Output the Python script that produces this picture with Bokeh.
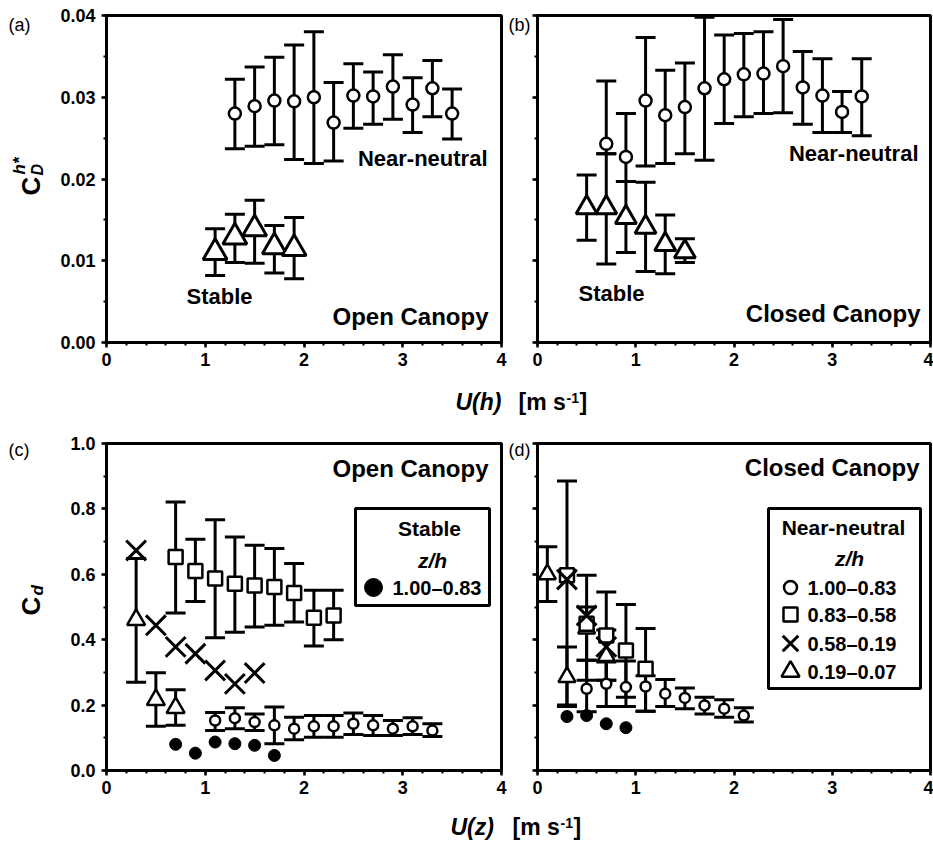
import math
from bokeh.plotting import figure
from bokeh.layouts import column, row
from bokeh.models import (Range1d, FixedTicker, PrintfTickFormatter, CustomJSTickFormatter,
                          ColumnDataSource, Whisker, TeeHead, Label, BoxAnnotation)
from bokeh.embed import file_html
from bokeh.resources import INLINE

FONT = "Liberation Sans"

# ---------------- (a) open canopy: C_D^h* vs U(h) ----------------
a_nn_u = [1.3, 1.5, 1.7, 1.9, 2.1, 2.3, 2.5, 2.7, 2.9, 3.1, 3.3, 3.5]
a_nn_cd = [0.0280, 0.0289, 0.0296, 0.0295, 0.0300, 0.0269, 0.0302, 0.0301, 0.0313, 0.0291, 0.0311, 0.0280]
a_nn_hi = [0.0322, 0.0337, 0.0349, 0.0364, 0.0380, 0.0318, 0.0341, 0.0331, 0.0352, 0.0324, 0.0345, 0.0310]
a_nn_lo = [0.0237, 0.0240, 0.0242, 0.0224, 0.0219, 0.0222, 0.0262, 0.0267, 0.0273, 0.0257, 0.0276, 0.0249]
a_st_u = [1.1, 1.3, 1.5, 1.7, 1.9]
a_st_cd = [0.0110, 0.0129, 0.0139, 0.0117, 0.0115]
a_st_hi = [0.0139, 0.0157, 0.0174, 0.0143, 0.0153]
a_st_lo = [0.0082, 0.0098, 0.0097, 0.0085, 0.0078]

# ---------------- (b) closed canopy: C_D^h* vs U(h) ----------------
b_nn_u = [0.7, 0.9, 1.1, 1.3, 1.5, 1.7, 1.9, 2.1, 2.3, 2.5, 2.7, 2.9, 3.1, 3.3]
b_nn_cd = [0.0243, 0.0227, 0.0296, 0.0278, 0.0288, 0.0311, 0.0322, 0.0328, 0.0329, 0.0338, 0.0312, 0.0302, 0.0282, 0.0301]
b_nn_hi = [0.0320, 0.0280, 0.0373, 0.0333, 0.0342, 0.0398, 0.0376, 0.0378, 0.0380, 0.0395, 0.0356, 0.0347, 0.0307, 0.0347]
b_nn_lo = [0.0231, 0.0197, 0.0216, 0.0219, 0.0231, 0.0223, 0.0268, 0.0276, 0.0280, 0.0281, 0.0267, 0.0257, 0.0257, 0.0253]
b_st_u = [0.5, 0.7, 0.9, 1.1, 1.3, 1.5]
b_st_cd = [0.0165, 0.0165, 0.0153, 0.0141, 0.0120, 0.0111]
b_st_hi = [0.0205, 0.0231, 0.0197, 0.0196, 0.0156, 0.0127]
b_st_lo = [0.0125, 0.0096, 0.0110, 0.0087, 0.0084, 0.0098]

# ---------------- (c) open canopy: C_d vs U(z) ----------------
c_z1_u = [1.1, 1.3, 1.5, 1.7, 1.9, 2.1, 2.3, 2.5, 2.7, 2.9, 3.1, 3.3]      # z/h 1.00-0.83
c_z1_cd = [0.153, 0.160, 0.148, 0.138, 0.128, 0.135, 0.135, 0.143, 0.138, 0.128, 0.135, 0.122]
c_z1_hi = [0.177, 0.192, 0.173, 0.194, 0.163, 0.168, 0.168, 0.176, 0.168, 0.153, 0.161, 0.143]
c_z1_lo = [0.122, 0.128, 0.122, 0.082, 0.094, 0.102, 0.102, 0.110, 0.107, 0.107, 0.110, 0.104]
c_z2_u = [0.7, 0.9, 1.1, 1.3, 1.5, 1.7, 1.9, 2.1, 2.3]                    # z/h 0.83-0.58
c_z2_cd = [0.653, 0.610, 0.587, 0.571, 0.566, 0.561, 0.543, 0.467, 0.474]
c_z2_hi = [0.821, 0.707, 0.767, 0.714, 0.689, 0.679, 0.633, 0.551, 0.551]
c_z2_lo = [0.482, 0.517, 0.406, 0.423, 0.439, 0.444, 0.454, 0.381, 0.400]
c_z3_u = [0.3, 0.5, 0.7, 0.9, 1.1, 1.3, 1.5]                              # z/h 0.58-0.19
c_z3_cd = [0.673, 0.444, 0.378, 0.357, 0.306, 0.265, 0.298]
c_z4_u = [0.3, 0.5, 0.7]                                                  # z/h 0.19-0.07
c_z4_cd = [0.461, 0.216, 0.192]
c_z4_hi = [0.648, 0.299, 0.247]
c_z4_lo = [0.270, 0.135, 0.138]
c_st_u = [0.7, 0.9, 1.1, 1.3, 1.5, 1.7]                                   # stable, z/h 1.00-0.83
c_st_cd = [0.080, 0.053, 0.087, 0.082, 0.077, 0.046]

# ---------------- (d) closed canopy: C_d vs U(z) ----------------
d_z1_u = [0.5, 0.7, 0.9, 1.1, 1.3, 1.5, 1.7, 1.9, 2.1]
d_z1_cd = [0.250, 0.265, 0.255, 0.257, 0.235, 0.222, 0.199, 0.189, 0.168]
d_z1_hi = [0.337, 0.332, 0.335, 0.290, 0.278, 0.252, 0.224, 0.216, 0.192]
d_z1_lo = [0.180, 0.196, 0.196, 0.181, 0.196, 0.189, 0.173, 0.163, 0.148]
d_z2_u = [0.3, 0.5, 0.7, 0.9, 1.1]
d_z2_cd = [0.597, 0.449, 0.413, 0.367, 0.311]
d_z2_hi = [0.885, 0.597, 0.546, 0.508, 0.434]
d_z2_lo = [0.200, 0.276, 0.276, 0.224, 0.181]
d_z3_u = [0.3, 0.5, 0.7]
d_z3_cd = [0.584, 0.474, 0.378]
d_z4_u = [0.1, 0.3, 0.5, 0.7]
d_z4_cd = [0.600, 0.286, 0.434, 0.350]
d_z4_hi = [0.684, 0.378, 0.500, 0.430]
d_z4_lo = [0.517, 0.196, 0.337, 0.276]
d_st_u = [0.3, 0.5, 0.7, 0.9]
d_st_cd = [0.165, 0.168, 0.143, 0.131]

x_ticks = [0, 1, 2, 3, 4]
x_minor = [round(0.2 * i, 1) for i in range(21)]
cdh_ticks = [0.00, 0.01, 0.02, 0.03, 0.04]
cdh_minor = [round(0.005 * i, 3) for i in range(9)]
cd_ticks = [0.0, 0.2, 0.4, 0.6, 0.8, 1.0]
cd_minor = [round(0.1 * i, 1) for i in range(11)]

# ---------------- page geometry (pixels) ----------------
PAGE_W = 933
ROW_H = 375
SIDE_W = 55          # strip holding the panel letter and y title
GAP_W = 25           # strip between the two panels of a row
L_W = 452
R_W = PAGE_W - SIDE_W - L_W - GAP_W
L_FRAME_X, L_FRAME_W = 106, 395
R_FRAME_X, R_FRAME_W = 537, 393
TOP_PAD, BOTTOM_PAD = 15, 33
FRAME_H = ROW_H - TOP_PAD - BOTTOM_PAD
ROW1_Y = 0
STRIP1_Y, STRIP1_H = 375, 53
ROW2_Y = 428
STRIP2_Y, STRIP2_H = 803, 40


class Frame:
    """Maps page pixel positions to a panel's data coordinates."""
    def __init__(self, left, width, top, ymax):
        self.left, self.width, self.top, self.ymax = left, width, top, ymax

    def x(self, px):
        return (px - self.left) / self.width * 4.0

    def y(self, py):
        return (self.top + FRAME_H - py) / FRAME_H * self.ymax


def make_panel(on_left, ymax, yticks, yminor, yfmt):
    p = figure(width=L_W if on_left else R_W, height=ROW_H, title=None,
               x_range=Range1d(0, 4), y_range=Range1d(0, ymax),
               min_border_left=(L_FRAME_X - SIDE_W) if on_left else (R_FRAME_X - SIDE_W - L_W - GAP_W),
               min_border_right=(SIDE_W + L_W - L_FRAME_X - L_FRAME_W) if on_left else (PAGE_W - R_FRAME_X - R_FRAME_W),
               min_border_top=TOP_PAD, min_border_bottom=BOTTOM_PAD,
               output_backend="svg", toolbar_location=None)
    p.xgrid.visible = False
    p.ygrid.visible = False
    p.background_fill_color = "white"
    p.border_fill_color = "white"
    p.outline_line_color = "black"
    p.outline_line_width = 3
    p.xaxis.ticker = FixedTicker(ticks=x_ticks, minor_ticks=x_minor)
    p.yaxis.ticker = FixedTicker(ticks=yticks, minor_ticks=yminor)
    p.xaxis.formatter = PrintfTickFormatter(format="%d")
    if on_left:
        p.yaxis.formatter = PrintfTickFormatter(format=yfmt)
    else:
        p.yaxis.formatter = CustomJSTickFormatter(code="return ''")
    for ax in p.axis:
        ax.axis_line_width = 3
        ax.axis_line_color = "black"
        ax.major_tick_line_width = 2.5
        ax.major_tick_out = 5
        ax.major_tick_in = 0
        ax.minor_tick_line_width = 2
        ax.minor_tick_out = 3
        ax.minor_tick_in = 0
        ax.major_label_text_font = FONT
        ax.major_label_text_font_style = "bold"
        ax.major_label_text_font_size = "18px"
        ax.major_label_text_color = "black"
    p.xaxis.major_label_standoff = 5
    p.yaxis.major_label_standoff = 6 if on_left else 0
    return p


def make_strip(w, h, y_top=0, y_bottom=None):
    # y data runs downward in row pixels; a strip that shares a row with the
    # panels gets its frame aligned to theirs, so its range follows that frame
    if y_bottom is None:
        y_bottom = h
    s = figure(width=w, height=h, title=None, x_range=Range1d(0, w), y_range=Range1d(y_bottom, y_top),
               x_axis_location=None, y_axis_location=None, min_border=0,
               output_backend="svg", toolbar_location=None)
    s.xgrid.visible = False
    s.ygrid.visible = False
    s.outline_line_color = None
    s.background_fill_color = "white"
    s.border_fill_color = "white"
    return s


def make_side(w):
    return make_strip(w, ROW_H, TOP_PAD, TOP_PAD + FRAME_H)


def bars(p, u, lo, hi, cap=20):
    src = ColumnDataSource(dict(u=u, lo=lo, hi=hi))
    p.add_layout(Whisker(source=src, base="u", lower="lo", upper="hi", level="underlay",
                         line_color="black", line_width=3,
                         upper_head=TeeHead(size=cap, line_color="black", line_width=3),
                         lower_head=TeeHead(size=cap, line_color="black", line_width=3)))


def marks(p, u, v, marker, size, filled=False, lw=2.5):
    return p.scatter(u, v, marker=marker, size=size, line_color="black", line_width=lw,
                     fill_color="black" if filled else "white")


def label(p, x, y, s, size, style="bold", align="left", angle=0.0):
    p.add_layout(Label(x=x, y=y, text=s, text_font=FONT, text_font_size=f"{size}px",
                       text_font_style=style, text_color="black",
                       text_align=align, text_baseline="middle", angle=angle))


def text(p, fr, px, py, s, size, style="bold", align="left"):
    label(p, fr.x(px), fr.y(py), s, size, style, align)


def key(p, fr, box, title, title_x, zh_x, title_y, zh_y, mark_x, text_x, rows):
    left, top, right, bottom = box
    p.add_layout(BoxAnnotation(left=fr.x(left), right=fr.x(right), top=fr.y(top), bottom=fr.y(bottom),
                               fill_color="white", fill_alpha=1.0, line_color="black", line_alpha=1.0,
                               line_width=3, level="underlay"))
    text(p, fr, title_x, title_y, title, 21, align="center")
    text(p, fr, zh_x, zh_y, "z/h", 21, style="bold italic", align="center")
    src = ColumnDataSource(dict(
        x=[fr.x(mark_x)] * len(rows),
        y=[fr.y(r[0]) for r in rows],
        m=[r[1] for r in rows],
        s=[r[2] for r in rows],
        lw=[r[3] for r in rows],
        f=["black" if r[4] else "white" for r in rows],
    ))
    p.scatter(x="x", y="y", marker="m", size="s", fill_color="f", line_color="black",
              line_width="lw", source=src)
    for r in rows:
        text(p, fr, text_x, r[0], r[5], 20)


# ---------------- panel (a) ----------------
fa = Frame(L_FRAME_X, L_FRAME_W, ROW1_Y + TOP_PAD, 0.04)
pa = make_panel(True, 0.04, cdh_ticks, cdh_minor, "%.2f")
bars(pa, a_nn_u, a_nn_lo, a_nn_hi)
bars(pa, a_st_u, a_st_lo, a_st_hi)
marks(pa, a_nn_u, a_nn_cd, "circle", 12)
marks(pa, a_st_u, a_st_cd, "triangle", 24, lw=3)
text(pa, fa, 487, 158, "Near-neutral", 22, align="right")
text(pa, fa, 186, 296, "Stable", 22)
text(pa, fa, 488, 316, "Open Canopy", 24, align="right")

# ---------------- panel (b) ----------------
fb = Frame(R_FRAME_X, R_FRAME_W, ROW1_Y + TOP_PAD, 0.04)
pb = make_panel(False, 0.04, cdh_ticks, cdh_minor, "%.2f")
bars(pb, b_nn_u, b_nn_lo, b_nn_hi)
bars(pb, b_st_u, b_st_lo, b_st_hi)
marks(pb, b_nn_u, b_nn_cd, "circle", 12)
marks(pb, b_st_u, b_st_cd, "triangle", 21, lw=3)
text(pb, fb, 918, 153, "Near-neutral", 22, align="right")
text(pb, fb, 578, 293, "Stable", 22)
text(pb, fb, 920, 313, "Closed Canopy", 24, align="right")

# ---------------- panel (c) ----------------
fc = Frame(L_FRAME_X, L_FRAME_W, ROW2_Y + TOP_PAD, 1.0)
pc = make_panel(True, 1.0, cd_ticks, cd_minor, "%.1f")
bars(pc, c_z2_u, c_z2_lo, c_z2_hi)
bars(pc, c_z4_u, c_z4_lo, c_z4_hi)
bars(pc, c_z1_u, c_z1_lo, c_z1_hi)
marks(pc, c_z3_u, c_z3_cd, "x", 28, lw=3)
marks(pc, c_z2_u, c_z2_cd, "square", 14)
marks(pc, c_z4_u, c_z4_cd, "triangle", 18)
marks(pc, c_z1_u, c_z1_cd, "circle", 10)
marks(pc, c_st_u, c_st_cd, "circle", 12, filled=True, lw=1)
text(pc, fc, 488, 468, "Open Canopy", 24, align="right")
key(pc, fc, (355, 508, 489, 605), "Stable", 429, 432, 528, 560, 373, 392,
    [(587, "circle", 18, 1, True, "1.00\u20130.83")])

# ---------------- panel (d) ----------------
fd = Frame(R_FRAME_X, R_FRAME_W, ROW2_Y + TOP_PAD, 1.0)
pd = make_panel(False, 1.0, cd_ticks, cd_minor, "%.1f")
bars(pd, d_z2_u, d_z2_lo, d_z2_hi)
bars(pd, d_z4_u, d_z4_lo, d_z4_hi)
bars(pd, d_z1_u, d_z1_lo, d_z1_hi)
marks(pd, d_z4_u, d_z4_cd, "triangle", 17)
marks(pd, d_z2_u, d_z2_cd, "square", 14)
marks(pd, d_z3_u, d_z3_cd, "x", 28, lw=3)
marks(pd, d_z1_u, d_z1_cd, "circle", 10)
marks(pd, d_st_u, d_st_cd, "circle", 12, filled=True, lw=1)
text(pd, fd, 919, 467, "Closed Canopy", 24, align="right")
key(pd, fd, (768, 508, 920, 688), "Near-neutral", 843, 849, 527, 558, 790, 807,
    [(587, "circle", 13, 2.5, False, "1.00\u20130.83"),
     (614, "square", 14, 2.5, False, "0.83\u20130.58"),
     (643, "x", 22, 3, False, "0.58\u20130.19"),
     (671, "triangle", 18, 2.5, False, "0.19\u20130.07")])

# ---------------- side strips: panel letters and y titles (row pixels) ----------------
side1 = make_side(SIDE_W)
label(side1, 8, 24, "(a)", 18, style="normal")
label(side1, 30, 195, "C", 26, angle=math.pi / 2)
label(side1, 37, 175, "D", 16, style="bold italic", angle=math.pi / 2)
label(side1, 19, 174, "h*", 17, style="bold italic", angle=math.pi / 2)
gap1 = make_side(GAP_W)
label(gap1, 1, 24, "(b)", 18, style="normal")

side2 = make_side(SIDE_W)
label(side2, 8, 449 - ROW2_Y, "(c)", 18, style="normal")
label(side2, 30, 615 - ROW2_Y, "C", 26, angle=math.pi / 2)
label(side2, 37, 595 - ROW2_Y, "d", 17, style="bold italic", angle=math.pi / 2)
gap2 = make_side(GAP_W)
label(gap2, 1, 449 - ROW2_Y, "(d)", 18, style="normal")


# ---------------- shared x-axis titles ----------------
def unit_title(s, top, var, x_var, x_unit, x_exp, x_close, mid_y, exp_y):
    for t, x, y, size, style in [(var, x_var, mid_y, 23, "bold italic"),
                                 ("[m s", x_unit, mid_y, 23, "bold"),
                                 ("-1", x_exp, exp_y, 14, "bold"),
                                 ("]", x_close, mid_y, 23, "bold")]:
        label(s, x, y - top, t, size, style)


s1 = make_strip(PAGE_W, STRIP1_H)
unit_title(s1, STRIP1_Y, "U(h)", 455, 518, 566, 579, 401, 397)
s2 = make_strip(PAGE_W, STRIP2_H)
unit_title(s2, STRIP2_Y, "U(z)", 450, 512, 560, 573, 826, 822)

layout = column(row(side1, pa, gap1, pb), s1, row(side2, pc, gap2, pd), s2)

with open("out.html", "w") as fh:
    fh.write(file_html(layout, INLINE))
